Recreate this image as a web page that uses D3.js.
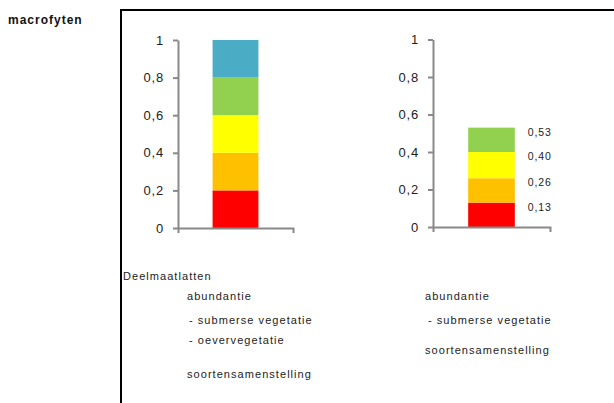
<!DOCTYPE html>
<html><head><meta charset="utf-8">
<script src="https://cdn.jsdelivr.net/npm/d3@7"></script>
<style>
html,body{margin:0;padding:0;background:#fff;}
svg{display:block;font-family:"Liberation Sans",Arial,sans-serif;}
</style></head>
<body>
<script>
// ---- data ----
const colors = ["#FF0000", "#FFC000", "#FFFF00", "#92D050", "#4BACC6"];
const leftSegments = [0.2, 0.2, 0.2, 0.2, 0.2];        // stacked class widths (0-1 scale)
const rightSegments = [0.13, 0.13, 0.14, 0.13];        // stacked result segments
const rightLabels = ["0,13", "0,26", "0,40", "0,53"];  // cumulative data labels
const yTicks = [0, 0.2, 0.4, 0.6, 0.8, 1];
const leftTexts = ["abundantie", "- submerse vegetatie", "- oevervegetatie", "soortensamenstelling"];
const rightTexts = ["abundantie", "- submerse vegetatie", "soortensamenstelling"];

const W = 614, H = 403;
const svg = d3.select("body").append("svg").attr("width", W).attr("height", H);

// frame
svg.append("path").attr("d", `M${W+5},10 H121 V${H+5}`).attr("fill", "none")
  .attr("stroke", "#000").attr("stroke-width", 2);

svg.append("text").attr("x", 8).attr("y", 24).attr("font-size", 12).attr("font-weight", "bold")
  .attr("letter-spacing", 1).attr("fill", "#111").text("macrofyten");

function drawChart(cfg, segs, labels) {
  const y = d3.scaleLinear().domain([0, 1]).range([cfg.y0, cfg.y1]);
  const x = d3.scaleBand().domain(["a"]).range([cfg.x0, cfg.x1]).paddingInner(0.43).paddingOuter(0.43);
  const g = svg.append("g");
  // stacked bars
  let cum = 0;
  const stacked = segs.map((v, i) => { const d = {lo: cum, hi: cum + v, c: colors[i]}; cum += v; return d; });
  g.selectAll("rect").data(stacked).join("rect")
    .attr("x", x("a")).attr("width", x.bandwidth())
    .attr("y", d => y(d.hi)).attr("height", d => y(d.lo) - y(d.hi))
    .attr("fill", d => d.c);
  // y axis
  const ya = g.append("g").attr("transform", `translate(${cfg.x0},0)`)
    .call(d3.axisLeft(y).tickValues(yTicks).tickSize(5).tickSizeOuter(0).tickPadding(9)
      .tickFormat(d => d3.format("")(d).replace(".", ",")));
  ya.selectAll("path,line").attr("stroke", "#898989").attr("stroke-width", 2);
  ya.selectAll("text").attr("font-size", 13).attr("fill", "#222").attr("letter-spacing", 0.8)
    .attr("font-family", "Liberation Sans, Arial, sans-serif");
  // x axis
  const xa = g.append("g").attr("transform", `translate(0,${cfg.y0})`)
    .call(d3.axisBottom(x).tickValues([]).tickSizeOuter(5));
  xa.selectAll("path").attr("stroke", "#898989").attr("stroke-width", 2);
  // data labels
  if (labels) {
    g.selectAll("text.lbl").data(stacked).join("text").attr("class", "lbl")
      .attr("x", x("a") + x.bandwidth() + 13).attr("y", d => y(d.hi) + 8)
      .attr("font-size", 10.5).attr("letter-spacing", 0.9).attr("fill", "#222")
      .text((d, i) => labels[i]);
  }
}

drawChart({x0: 178, x1: 293, y0: 228, y1: 40}, leftSegments, null);
drawChart({x0: 433, x1: 550, y0: 227, y1: 39.5}, rightSegments, rightLabels);

// texts below
const tstyle = s => s.attr("font-size", 11).attr("letter-spacing", 1.05).attr("fill", "#222");
svg.append("text").attr("x", 123).attr("y", 280).text("Deelmaatlatten").call(tstyle);
const leftY = [300, 324, 344, 378];
const leftX = [187, 189, 189, 187];
svg.selectAll("text.lt").data(leftTexts).join("text").attr("class", "lt")
  .attr("x", (d, i) => leftX[i]).attr("y", (d, i) => leftY[i]).text(d => d).call(tstyle);
const rightY = [300, 324, 354];
const rightX = [425, 428, 425];
svg.selectAll("text.rt").data(rightTexts).join("text").attr("class", "rt")
  .attr("x", (d, i) => rightX[i]).attr("y", (d, i) => rightY[i]).text(d => d).call(tstyle);
</script>
</body></html>
